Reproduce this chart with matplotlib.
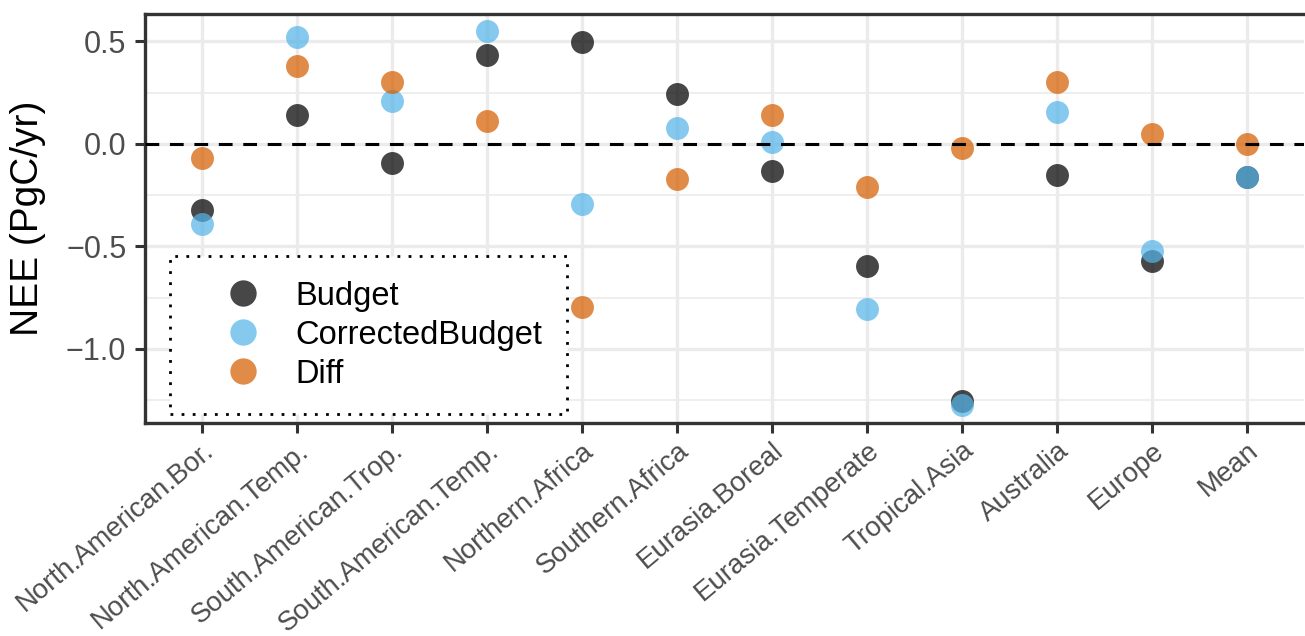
import matplotlib
matplotlib.use("Agg")
import matplotlib.pyplot as plt
from matplotlib.ticker import MultipleLocator

plt.rcParams["font.family"] = ["Liberation Sans", "DejaVu Sans"]

regions = ["North.American.Bor.", "North.American.Temp.", "South.American.Trop.",
           "South.American.Temp.", "Northern.Africa", "Southern.Africa",
           "Eurasia.Boreal", "Eurasia.Temperate", "Tropical.Asia", "Australia",
           "Europe", "Mean"]

budget = [-0.324, 0.142, -0.095, 0.433, 0.497, 0.245, -0.134, -0.595, -1.255, -0.152, -0.572, -0.163]
corrected = [-0.392, 0.521, 0.211, 0.549, -0.294, 0.077, 0.008, -0.804, -1.275, 0.155, -0.521, -0.163]
diff = [-0.069, 0.379, 0.304, 0.114, -0.793, -0.170, 0.139, -0.211, -0.018, 0.304, 0.049, 0.002]

series_names = ["Budget", "CorrectedBudget", "Diff"]
series_colors = ["#000000", "#56B4E9", "#D55E00"]

W, H = 1305, 636
fig = plt.figure(figsize=(W / 100, H / 100), dpi=100)
ax = fig.add_axes([145 / W, 1 - 423 / H, (1304 - 145) / W, (423 - 14) / H])

x = list(range(len(regions)))
for name, vals, col in zip(series_names, [budget, corrected, diff], series_colors):
    ax.plot(x, vals, "o", ms=16.5, mew=0, color=col, alpha=0.72, label=name, zorder=3)

# zero line sits on top of the points
ax.axhline(0, color="black", lw=2.2, dashes=(4.5, 3.5), zorder=4)

ax.set_xlim(-0.6, len(regions) - 0.4)
ax.set_ylim(-1.361, 0.634)
ax.set_xticks(x)
ax.set_xticklabels(regions, rotation=40, ha="right", va="top", rotation_mode="anchor",
                   fontsize=19.9, color="#4D4D4D")
ax.yaxis.set_minor_locator(MultipleLocator(0.25))
ax.set_yticks([-1.0, -0.5, 0.0, 0.5])
ax.set_yticklabels(["\u22121.0", "\u22120.5", "0.0", "0.5"], fontsize=22, color="#4D4D4D")
ax.tick_params(axis="both", which="major", length=7.5, width=2.2, color="#333333", pad=6)
ax.tick_params(axis="x", which="major", pad=3)
ax.tick_params(axis="y", which="minor", length=0)

ax.grid(True, which="major", color="#EBEBEB", lw=2.4, zorder=0)
ax.grid(True, which="minor", axis="y", color="#EBEBEB", lw=1.2, zorder=0)
ax.set_axisbelow(True)

for side in ["left", "top", "bottom"]:
    ax.spines[side].set_color("#333333")
    ax.spines[side].set_linewidth(2.4)
ax.spines["right"].set_visible(False)

ax.set_ylabel("NEE (PgC/yr)", fontsize=28, labelpad=14)

leg = ax.legend(loc="lower left", bbox_to_anchor=(170 / W, 1 - 414 / H),
                bbox_transform=fig.transFigure, borderaxespad=0, fontsize=23.5,
                markerscale=1.15, handlelength=3.0, handletextpad=0.1,
                borderpad=0.75, labelspacing=0.24, fancybox=False, framealpha=1)
frame = leg.get_frame()
frame.set_edgecolor("black")
frame.set_linewidth(2)
frame.set_linestyle((0, (1, 3)))

fig.savefig("out.png", dpi=100)
